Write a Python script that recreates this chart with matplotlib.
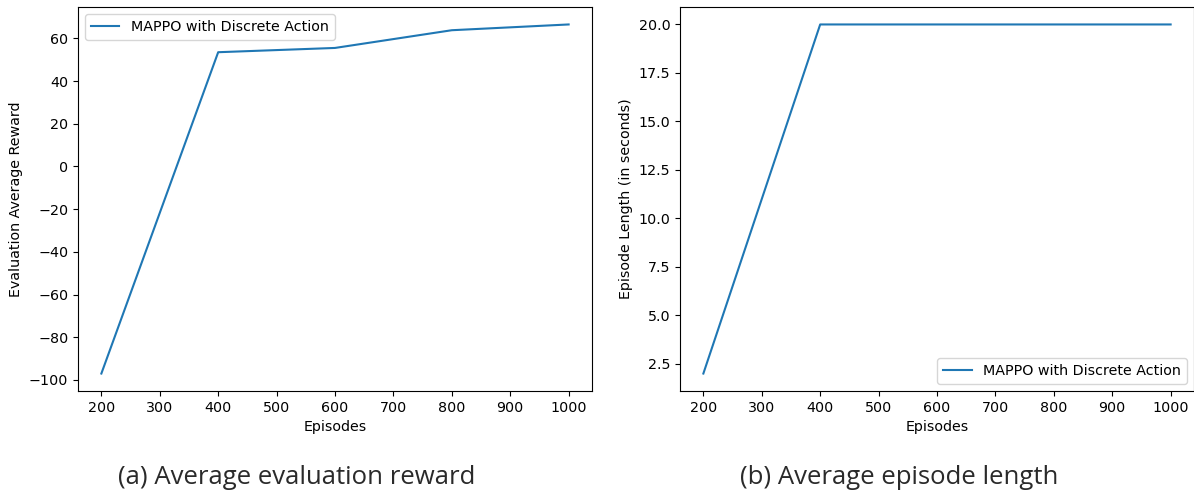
import matplotlib
matplotlib.use("Agg")
import matplotlib.pyplot as plt

# data
episodes = [200, 400, 600, 800, 1000]
avg_reward = [-97.0, 53.5, 55.5, 63.8, 66.5]
ep_length = [2.0, 20.0, 20.0, 20.0, 20.0]
label = "MAPPO with Discrete Action"
captions = ["(a) Average evaluation reward", "(b) Average episode length"]

plt.rcParams['font.size'] = 10.3

fig = plt.figure(figsize=(11.94, 4.95), dpi=100)
W, H = 1194.0, 495.0

ax1 = fig.add_axes([78 / W, (H - 391) / H, 514 / W, 384 / H])
ax1.plot(episodes, avg_reward, label=label)
ax1.set_xlabel("Episodes")
ax1.set_ylabel("Evaluation Average Reward")
ax1.legend(loc="upper left")

ax2 = fig.add_axes([680 / W, (H - 391) / H, 514 / W, 384 / H])
ax2.plot(episodes, ep_length, label=label)
ax2.set_xlabel("Episodes")
ax2.set_ylabel("Episode Length (in seconds)")
ax2.legend(loc="lower right")

for ax in (ax1, ax2):
    ax.set_xticks([200, 300, 400, 500, 600, 700, 800, 900, 1000])

# captions under each panel
fig.text(297 / W, 1 - 477 / H, captions[0], ha="center", va="center",
         fontsize=18.5, family="Open Sans", color="#2a2a2a")
fig.text(899 / W, 1 - 477 / H, captions[1], ha="center", va="center",
         fontsize=18.5, family="Open Sans", color="#2a2a2a")

fig.savefig("out.png", dpi=100)
